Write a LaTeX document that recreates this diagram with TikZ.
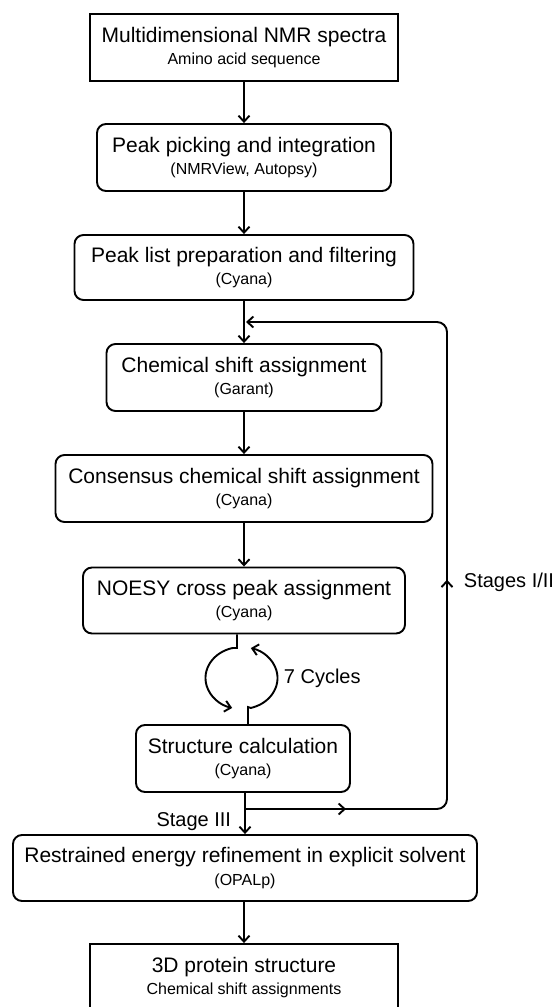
\documentclass[tikz,border=0pt]{standalone}
\usepackage{fontspec}
\setmainfont{Liberation Sans}
\usetikzlibrary{arrows.meta,decorations.markings,calc}
\newcommand{\subf}{\fontsize{16}{22.5}\selectfont}
\begin{document}
\begin{tikzpicture}[x=1pt,y=1pt,
  line width=1.9pt,
  >={Straight Barb[length=6pt,width=11pt]},
  sq/.style={draw,align=center,inner sep=0pt,font=\fontsize{21}{22.5}\selectfont},
  rd/.style={sq,rounded corners=9pt},
  lbl/.style={font=\fontsize{20}{22}\selectfont,inner sep=0pt},
  flow/.style={->}
]
\useasboundingbox (0,0) rectangle (557,-1007);
\clip (0,0) rectangle (557,-1007);

\node[sq,minimum width=308,minimum height=67] (s1) at (244,-47.5)
  {Multidimensional NMR spectra\\{\subf Amino acid sequence}};
\node[rd,minimum width=294,minimum height=67] (s2) at (244,-157.5)
  {Peak picking and integration\\{\subf (NMRView, Autopsy)}};
\node[rd,minimum width=339,minimum height=65] (s3) at (244,-267.5)
  {Peak list preparation and filtering\\{\subf (Cyana)}};
\node[rd,minimum width=275,minimum height=67] (s4) at (244,-377.5)
  {Chemical shift assignment\\{\subf (Garant)}};
\node[rd,minimum width=377,minimum height=67] (s5) at (244,-488.5)
  {Consensus chemical shift assignment\\{\subf (Cyana)}};
\node[rd,minimum width=322,minimum height=66] (s6) at (244,-600.5)
  {NOESY cross peak assignment\\{\subf (Cyana)}};
\node[rd,minimum width=214,minimum height=67] (s7) at (243,-758.5)
  {Structure calculation\\{\subf (Cyana)}};
\node[rd,minimum width=464,minimum height=66] (s8) at (245,-868)
  {Restrained energy refinement in explicit solvent\\{\subf (OPALp)}};
\node[sq,minimum width=308,minimum height=67] (s9) at (244,-977.5)
  {3D protein structure\\{\subf Chemical shift assignments}};

% straight flow
\draw[flow] (s1.south) -- (s2.north);
\draw[flow] (s2.south) -- (s3.north);
\draw[flow] (s3.south) -- (s4.north);
\draw[flow] (s4.south) -- (s5.north);
\draw[flow] (s5.south) -- (s6.north);
\draw[flow] (s7.south -| s8.north) -- (s8.north);
\draw[flow] (s8.south -| s9.north) -- (s9.north);

% loop between NOESY and structure calculation
\coordinate (lc) at (241.5,-678);
\draw[->] ([xshift=-7pt]s6.south) -- ++(0,-13.5) -- ($(lc)+(105:36 and 31)$)
  arc[start angle=105,end angle=255,x radius=36,y radius=31];
\draw[->] ([xshift=5pt]s7.north) -- ++(0,17) -- ($(lc)+(285:36 and 31)$)
  arc[start angle=285,end angle=435,x radius=36,y radius=31];

% feedback
\coordinate (split) at (244,-809);
\coordinate (join) at (246,-322);
\draw[->,rounded corners=10pt,
  postaction={decorate},
  decoration={markings,
    mark=at position 102pt with {\arrow{>}},
    mark=at position 428pt with {\arrow{>}}}]
  (split) -- (447,-809) -- (447,-322) -- (join);

% labels
\node[lbl,anchor=base west] (cyc) at (283,-683) {7 Cycles};
\node[lbl,anchor=base east] (st3) at (232,-826) {Stage III};
\node[lbl,anchor=base west] (st12) at (463,-587) {Stages I/II};
\end{tikzpicture}
\end{document}
